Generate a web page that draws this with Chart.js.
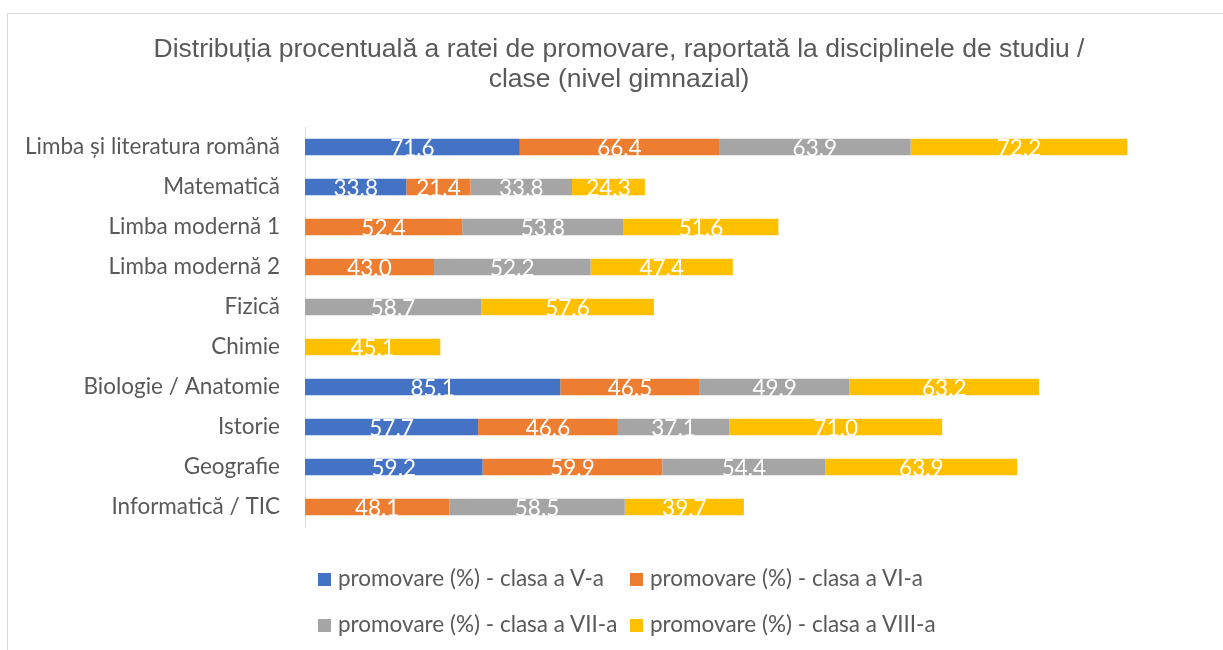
<!DOCTYPE html>
<html>
<head>
<meta charset="utf-8">
<script src="https://cdn.jsdelivr.net/npm/chart.js@4.4.1/dist/chart.umd.min.js"></script>
<style>
  html, body { margin:0; padding:0; background:#fff; }
  #wrap { position:relative; width:1223px; height:650px; overflow:hidden; }
  #frame { position:absolute; left:7px; top:13px; width:1300px; height:700px; border:1px solid #D9D9D9; box-sizing:border-box; }
  canvas { position:absolute; left:0; top:0; }
  #legend { position:absolute; left:0; top:0; width:1223px; height:650px; pointer-events:none;
            font-family: Lato, "Noto Sans", sans-serif; font-size:22.5px; color:#595959; }
  .li { position:absolute; white-space:nowrap; line-height:24px; }
  .box { display:inline-block; width:13px; height:13px; margin-right:7px; vertical-align:0px; }
</style>
</head>
<body>
<div id="wrap">
  <div id="frame"></div>
  <canvas id="c" width="1223" height="650"></canvas>
  <div id="legend"></div>
</div>
<script>
const categories = ["Limba și literatura română","Matematică","Limba modernă 1","Limba modernă 2","Fizică","Chimie","Biologie / Anatomie","Istorie","Geografie","Informatică / TIC"];
const seriesNames = ["promovare (%) - clasa a V-a","promovare (%) - clasa a VI-a","promovare (%) - clasa a VII-a","promovare (%) - clasa a VIII-a"];
const clasaV    = [71.6, 33.8, null, null, null, null, 85.1, 57.7, 59.2, null];
const clasaVI   = [66.4, 21.4, 52.4, 43.0, null, null, 46.5, 46.6, 59.9, 48.1];
const clasaVII  = [63.9, 33.8, 53.8, 52.2, 58.7, null, 49.9, 37.1, 54.4, 58.5];
const clasaVIII = [72.2, 24.3, 51.6, 47.4, 57.6, 45.1, 63.2, 71.0, 63.9, 39.7];
const colors = ["#4472C4","#ED7D31","#A5A5A5","#FFC000"];
const titleLines = ["Distribuția procentuală a ratei de promovare, raportată la disciplinele de studiu /","clase (nivel gimnazial)"];

const values = [clasaV, clasaVI, clasaVII, clasaVIII];
const datasets = values.map((v,i)=>({
  label: seriesNames[i], data: v, backgroundColor: colors[i],
  borderWidth: 0, categoryPercentage: 1.0, barPercentage: 0.41
}));

const labelPlugin = {
  id:'barLabels',
  afterDatasetsDraw(chart){
    const ctx = chart.ctx;
    ctx.save();
    ctx.font = '22.5px Lato, "Noto Sans", sans-serif';
    ctx.fillStyle = '#FFFFFF';
    ctx.textAlign = 'center';
    ctx.textBaseline = 'alphabetic';
    chart.data.datasets.forEach((ds, di)=>{
      const meta = chart.getDatasetMeta(di);
      meta.data.forEach((bar, i)=>{
        const v = ds.data[i];
        if (v === null || v === undefined) return;
        const cx = (bar.x + bar.base)/2;
        ctx.fillText(v.toFixed(1), cx, bar.y + bar.height/2 + 1);
      });
    });
    ctx.restore();
  }
};

const titlePlugin = {
  id:'offsetTitle',
  afterDraw(chart){
    const ctx = chart.ctx;
    ctx.save();
    ctx.font = '26.5px "Liberation Sans", Arial, sans-serif';
    ctx.fillStyle = '#595959';
    ctx.textAlign = 'center';
    ctx.textBaseline = 'middle';
    titleLines.forEach((t, i)=> ctx.fillText(t, 619, 50 + i*30));
    ctx.restore();
  }
};

const chart = new Chart(document.getElementById('c'), {
  type:'bar',
  data:{ labels: categories, datasets },
  plugins:[labelPlugin, titlePlugin],
  options:{
    indexAxis:'y', responsive:false, animation:false,
    layout:{ padding:{ left:0, right:18, top:127, bottom:123 } },
    plugins:{
      legend:{ display:false },
      tooltip:{ enabled:false },
      title:{ display:false }
    },
    scales:{
      x:{ stacked:true, display:false, min:0, max:300 },
      y:{ stacked:true,
          grid:{ display:true, drawOnChartArea:false, drawTicks:false, color:'#D9D9D9' },
          border:{ display:true, color:'#D9D9D9', width:1 },
          ticks:{ color:'#595959', padding:25, font:{ family:'Lato, "Noto Sans", sans-serif', size:22.5 } },
          afterFit(scale){ scale.width = 305; }
      }
    }
  }
});

const leg = document.getElementById('legend');
const pos = [[318,566],[630,566],[318,612],[630,612]];
seriesNames.forEach((n,i)=>{
  const d = document.createElement('div');
  d.className='li';
  d.style.left = pos[i][0]+'px'; d.style.top = pos[i][1]+'px';
  d.innerHTML = '<span class="box" style="background:'+colors[i]+'"></span>'+n;
  leg.appendChild(d);
});
</script>
</body>
</html>
